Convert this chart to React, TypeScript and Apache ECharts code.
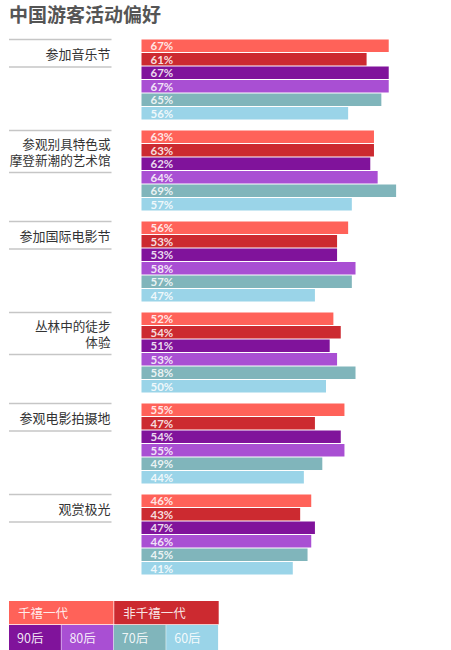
import React, { useEffect, useRef } from "react";
import * as echarts from "echarts";

const title = "中国游客活动偏好";
const categories = [
  "参加音乐节",
  "参观别具特色或\n摩登新潮的艺术馆",
  "参加国际电影节",
  "丛林中的徒步\n体验",
  "参观电影拍摄地",
  "观赏极光",
];
const seriesNames = ["千禧一代", "非千禧一代", "90后", "80后", "70后", "60后"];
const seriesColors = ["#FF6259", "#CC2A30", "#80139B", "#A94FD3", "#80B5BB", "#9AD4E8"];
const millennials = [67, 63, 56, 52, 55, 46];
const nonMillennials = [61, 63, 53, 54, 47, 43];
const post90 = [67, 62, 53, 51, 54, 47];
const post80 = [67, 64, 58, 53, 55, 46];
const post70 = [65, 69, 57, 58, 49, 45];
const post60 = [56, 57, 47, 50, 44, 41];
const seriesValues = [millennials, nonMillennials, post90, post80, post70, post60];
const legendTopRow = [0, 1];
const legendBottomRow = [2, 3, 4, 5];

const CJK = '"Noto Sans CJK SC", "Noto Sans", sans-serif';
const NUM = 'Lato, "Noto Sans", sans-serif';

export default function App() {
  const ref = useRef<HTMLDivElement>(null);
  useEffect(() => {
    if (!ref.current) return;
    const chart = echarts.init(ref.current, null, { renderer: "svg" });

    const barSeries = seriesNames.map((name, i) => ({
      type: "bar",
      name,
      data: seriesValues[i],
      barWidth: 12.6,
      barGap: "7%",
      itemStyle: { color: seriesColors[i] },
      label: {
        show: true,
        position: "insideLeft",
        distance: 9,
        formatter: "{c}%",
        color: "rgba(255,255,255,0.85)",
        fontSize: 11.5,
        fontWeight: "bold",
        fontFamily: NUM,
      },
      silent: true,
    }));

    const labelSeries = {
      type: "custom",
      coordinateSystem: "cartesian2d",
      clip: false,
      silent: true,
      data: categories.map((_, i) => [0, i]),
      encode: { x: 0, y: 1 },
      renderItem: (params: any, api: any) => {
        const idx = api.value(1);
        const p = api.coord([0, idx]);
        const top = p[1] - 40;
        const parts = categories[idx].split("\n");
        const n = parts.length;
        const h = n === 1 ? 27.5 : 42;
        const xr = p[0] - 31;
        const xl = p[0] - 132.5;
        const ls = { stroke: "#c6c6c6", lineWidth: 1.6 };
        const lh = 15.6;
        const mid = top + h / 2;
        const texts = parts.map((t, k) => ({
          type: "text",
          style: {
            text: t,
            x: xr,
            y: mid + (k - (n - 1) / 2) * lh,
            align: "right",
            verticalAlign: "middle",
            fontSize: n === 1 ? 13 : 12.6,
            fill: "#333333",
            fontFamily: CJK,
          },
        }));
        return {
          type: "group",
          children: [
            { type: "line", shape: { x1: xl, y1: top, x2: xr + 1, y2: top }, style: ls },
            { type: "line", shape: { x1: xl, y1: top + h, x2: xr + 1, y2: top + h }, style: ls },
            ...texts,
          ],
        };
      },
    };

    const legendGraphics: any[] = [];
    const topW = 104.5;
    legendTopRow.forEach((si, k) => {
      const x = 9 + k * (topW + 0.7);
      legendGraphics.push({
        type: "rect",
        shape: { x, y: 601, width: topW, height: 23.3 },
        style: { fill: seriesColors[si] },
      });
      legendGraphics.push({
        type: "text",
        style: {
          text: seriesNames[si],
          x: x + 9,
          y: 612.5,
          verticalAlign: "middle",
          fontSize: 12.5,
          fill: "rgba(255,255,255,0.9)",
          fontFamily: CJK,
        },
      });
    });
    const botW = 51.9;
    legendBottomRow.forEach((si, k) => {
      const x = 9 + k * (botW + 0.5);
      legendGraphics.push({
        type: "rect",
        shape: { x, y: 625, width: botW, height: 25 },
        style: { fill: seriesColors[si] },
      });
      legendGraphics.push({
        type: "text",
        style: {
          text: seriesNames[si],
          x: x + 8,
          y: 637.5,
          verticalAlign: "middle",
          fontSize: 12.5,
          fill: "rgba(255,255,255,0.9)",
          fontFamily: CJK,
        },
      });
    });

    chart.setOption({
      animation: false,
      backgroundColor: "#ffffff",
      grid: { left: 141.5, right: 14.3, top: 34, bottom: 70 },
      xAxis: { type: "value", min: 0, max: 80, show: false },
      yAxis: {
        type: "category",
        data: categories,
        inverse: true,
        axisLine: { show: false },
        axisTick: { show: false },
        axisLabel: { show: false },
      },
      graphic: [
        {
          type: "text",
          style: {
            text: title,
            x: 9,
            y: 13.5,
            verticalAlign: "middle",
            fontSize: 19,
            fontWeight: "bold",
            fill: "#555555",
            fontFamily: CJK,
          },
        },
        ...legendGraphics,
      ],
      series: [...barSeries, labelSeries],
    });
    return () => chart.dispose();
  }, []);
  return (
    <div
      ref={ref}
      style={{ position: "absolute", left: 0, top: 0, width: 451, height: 650 }}
    />
  );
}
